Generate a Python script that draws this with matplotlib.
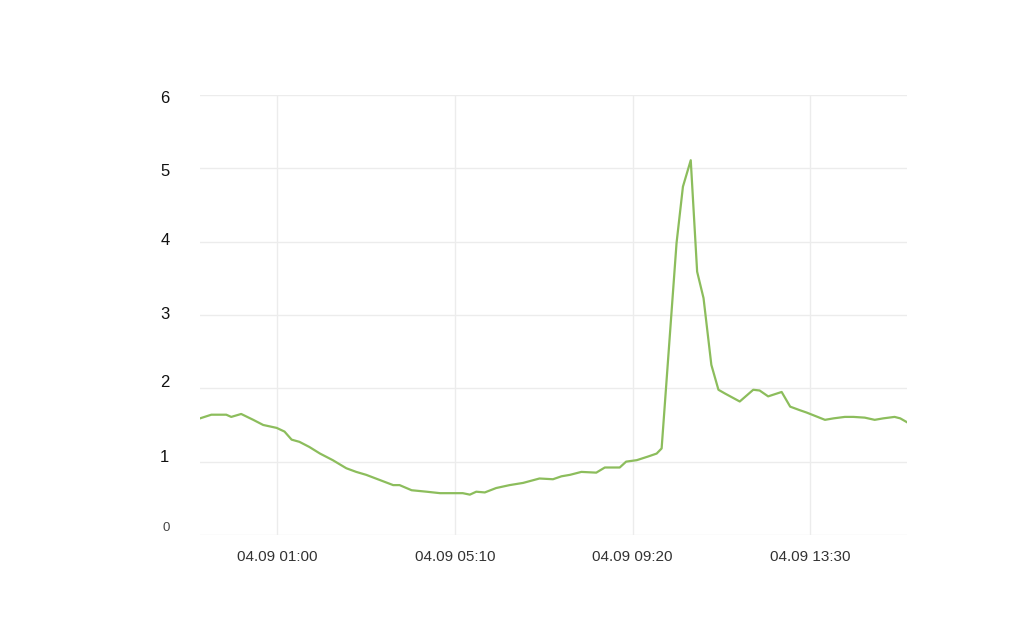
import matplotlib

matplotlib.use("Agg")
import matplotlib.dates as mdates
import matplotlib.pyplot as plt
import matplotlib.transforms as mtransforms
import pandas as pd

plt.rcParams["font.family"] = ["Liberation Sans", "DejaVu Sans"]

# readings taken off the chart (time, value)
times = [
    "04-08 23:11", "04-08 23:27", "04-08 23:48", "04-08 23:55", "04-09 00:09",
    "04-09 00:26", "04-09 00:40", "04-09 00:59", "04-09 01:10", "04-09 01:20",
    "04-09 01:31", "04-09 01:45", "04-09 02:00", "04-09 02:18", "04-09 02:37",
    "04-09 02:51", "04-09 03:05", "04-09 03:24", "04-09 03:43", "04-09 03:52",
    "04-09 04:09", "04-09 04:30", "04-09 04:49", "04-09 05:07", "04-09 05:21",
    "04-09 05:31", "04-09 05:40", "04-09 05:52", "04-09 06:08", "04-09 06:27",
    "04-09 06:46", "04-09 07:09", "04-09 07:28", "04-09 07:40", "04-09 07:52",
    "04-09 08:08", "04-09 08:29", "04-09 08:41", "04-09 09:02", "04-09 09:11",
    "04-09 09:26", "04-09 09:42", "04-09 09:54", "04-09 10:01", "04-09 10:22",
    "04-09 10:31", "04-09 10:42", "04-09 10:51", "04-09 11:00", "04-09 11:11",
    "04-09 11:21", "04-09 11:30", "04-09 11:51", "04-09 12:10", "04-09 12:19",
    "04-09 12:31", "04-09 12:50", "04-09 13:02", "04-09 13:16", "04-09 13:25",
    "04-09 13:51", "04-09 14:03", "04-09 14:19", "04-09 14:31", "04-09 14:47",
    "04-09 15:01", "04-09 15:13", "04-09 15:29", "04-09 15:37", "04-09 15:46",
]
values = [
    1.59, 1.64, 1.64, 1.61, 1.65,
    1.57, 1.50, 1.46, 1.41, 1.30,
    1.27, 1.20, 1.11, 1.02, 0.91,
    0.86, 0.82, 0.75, 0.68, 0.68,
    0.61, 0.59, 0.57, 0.57, 0.57,
    0.55, 0.59, 0.58, 0.64, 0.68,
    0.71, 0.77, 0.76, 0.80, 0.82,
    0.86, 0.85, 0.92, 0.92, 1.00,
    1.02, 1.07, 1.11, 1.18, 3.98,
    4.75, 5.11, 3.59, 3.23, 2.32,
    1.98, 1.93, 1.82, 1.98, 1.97,
    1.89, 1.95, 1.75, 1.70, 1.67,
    1.57, 1.59, 1.61, 1.61, 1.60,
    1.57, 1.59, 1.61, 1.59, 1.54,
]
x_ticks = ["04-09 01:00", "04-09 05:10", "04-09 09:20", "04-09 13:30"]
y_ticks = [0, 1, 2, 3, 4, 5, 6]

YEAR = "2024-"
ts = pd.to_datetime([YEAR + t for t in times])
tick_ts = pd.to_datetime([YEAR + t for t in x_ticks])

fig = plt.figure(figsize=(10.24, 6.34), dpi=100)
ax = fig.add_axes([0.1953, 0.1562, 0.6901, 0.6940])

ax.plot(ts, values, color="#8cbd5c", linewidth=1.6, solid_joinstyle="round")

ax.set_xlim(ts[0], ts[-1])
ax.set_ylim(0, 6)
ax.set_xticks(tick_ts)
ax.xaxis.set_major_formatter(mdates.DateFormatter("%m.%d %H:%M"))
ax.set_yticks(y_ticks)

ax.grid(True, color="#ececec", linewidth=1.0)
ax.set_axisbelow(True)
for spine in ax.spines.values():
    spine.set_visible(False)

ax.tick_params(axis="x", length=0, pad=11, labelsize=11, labelcolor="#333333")
ax.tick_params(axis="y", length=0, pad=22, labelsize=12, labelcolor="#111111")

# y labels in the source don't sit exactly on their gridlines (pixel nudges)
nudges = [8, 6, 7, 2, 3, -2, -2]
for lbl, dy in zip(ax.get_yticklabels(), nudges):
    off = mtransforms.ScaledTranslation(0, dy / 100, fig.dpi_scale_trans)
    lbl.set_transform(lbl.get_transform() + off)
zero = ax.get_yticklabels()[0]
zero.set_fontsize(9.5)
zero.set_color("#444444")

fig.savefig("out.png", dpi=100, facecolor="white")
